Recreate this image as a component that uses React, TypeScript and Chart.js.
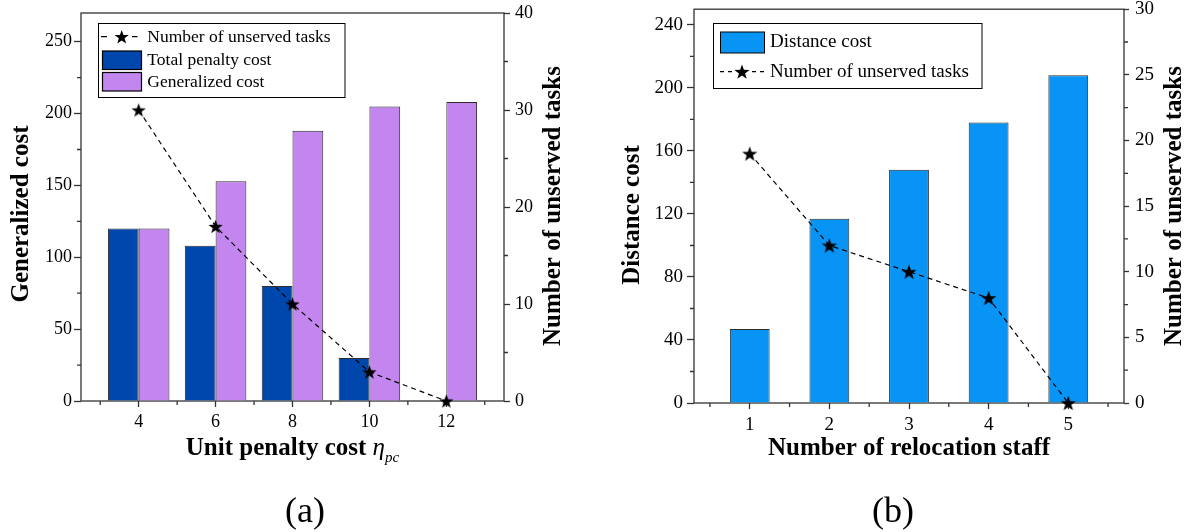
import React, { useEffect, useRef } from 'react';
import { Chart, registerables } from 'chart.js';

Chart.register(...registerables);

const FONT = "'Liberation Serif', 'Times New Roman', Times, serif";
const AXIS = '#333333';

// ---------- Chart (a) data ----------
const unitPenaltyCost = [4, 6, 8, 10, 12];
const totalPenaltyCost = [120, 108, 80, 30, 0];
const generalizedCost = [120, 153, 188, 205, 208];
const unservedTasksA = [30, 18, 10, 3, 0];
const aXTicks = [4, 6, 8, 10, 12];
const aXMinor = [3, 5, 7, 9, 11, 13];
const aYTicks = [0, 50, 100, 150, 200, 250];
const aYMinor = [25, 75, 125, 175, 225];
const aY1Ticks = [0, 10, 20, 30, 40];
const aY1Minor = [5, 15, 25, 35];

// ---------- Chart (b) data ----------
const relocationStaff = [1, 2, 3, 4, 5];
const distanceCost = [47, 117, 148, 178, 208];
const unservedTasksB = [19, 12, 10, 8, 0];
const bXTicks = [1, 2, 3, 4, 5];
const bXMinor = [0.5, 1.5, 2.5, 3.5, 4.5, 5.5];
const bYTicks = [0, 40, 80, 120, 160, 200, 240];
const bYMinor = [20, 60, 100, 140, 180, 220];
const bY1Ticks = [0, 5, 10, 15, 20, 25, 30];
const bY1Minor = [2.5, 7.5, 12.5, 17.5, 22.5, 27.5];

const TITLE_A_X = 'Unit penalty cost ';
const TITLE_B_X = 'Number of relocation staff';

function starPath(ctx: CanvasRenderingContext2D, cx: number, cy: number, R: number, r: number) {
  ctx.beginPath();
  for (let i = 0; i < 10; i++) {
    const rad = i % 2 === 0 ? R : r;
    const ang = -Math.PI / 2 + (i * Math.PI) / 5;
    const x = cx + rad * Math.cos(ang);
    const y = cy + rad * Math.sin(ang);
    if (i === 0) ctx.moveTo(x, y);
    else ctx.lineTo(x, y);
  }
  ctx.closePath();
}

function makeStar(R: number): HTMLCanvasElement {
  const c = document.createElement('canvas');
  const s = Math.ceil(R * 2 + 2);
  c.width = s;
  c.height = s;
  const ctx = c.getContext('2d')!;
  ctx.fillStyle = '#000';
  starPath(ctx, s / 2, s / 2 + R * 0.1, R, R * 0.4);
  ctx.fill();
  return c;
}

function fixTicks(values: number[]) {
  return (scale: any) => {
    scale.ticks = values.map((v) => ({ value: v }));
  };
}

function fitW(w: number) {
  return (scale: any) => {
    scale.width = w;
    scale.paddingTop = 0;
    scale.paddingBottom = 0;
    scale.paddingLeft = 0;
    scale.paddingRight = 0;
  };
}
function fitH(h: number) {
  return (scale: any) => {
    scale.height = h;
    scale.paddingTop = 0;
    scale.paddingBottom = 0;
    scale.paddingLeft = 0;
    scale.paddingRight = 0;
  };
}

function drawMinor(chart: any, xMinor: number[], yMinor: number[], y1Minor: number[]) {
  const ctx = chart.ctx as CanvasRenderingContext2D;
  const { left, right, bottom } = chart.chartArea;
  ctx.save();
  ctx.strokeStyle = AXIS;
  ctx.lineWidth = 1.3;
  ctx.beginPath();
  xMinor.forEach((v) => {
    const p = chart.scales.x.getPixelForValue(v);
    ctx.moveTo(p, bottom);
    ctx.lineTo(p, bottom + 4);
  });
  yMinor.forEach((v) => {
    const p = chart.scales.y.getPixelForValue(v);
    ctx.moveTo(left, p);
    ctx.lineTo(left - 4, p);
  });
  y1Minor.forEach((v) => {
    const p = chart.scales.y1.getPixelForValue(v);
    ctx.moveTo(right, p);
    ctx.lineTo(right + 4, p);
  });
  ctx.stroke();
  ctx.restore();
}

function drawBox(chart: any) {
  const ctx = chart.ctx as CanvasRenderingContext2D;
  const { left, right, top, bottom } = chart.chartArea;
  ctx.save();
  ctx.strokeStyle = AXIS;
  ctx.lineWidth = 1.3;
  ctx.strokeRect(left, top, right - left, bottom - top);
  ctx.restore();
}

function drawRotated(ctx: CanvasRenderingContext2D, text: string, x: number, y: number, font: string) {
  ctx.save();
  ctx.translate(x, y);
  ctx.rotate(-Math.PI / 2);
  ctx.font = font;
  ctx.fillStyle = '#000';
  ctx.textAlign = 'center';
  ctx.textBaseline = 'middle';
  ctx.fillText(text, 0, 0);
  ctx.restore();
}

function drawCaption(ctx: CanvasRenderingContext2D, text: string, x: number, y: number) {
  ctx.save();
  ctx.font = `36px ${FONT}`;
  ctx.fillStyle = '#000';
  ctx.textAlign = 'center';
  ctx.textBaseline = 'alphabetic';
  ctx.fillText(text, x, y);
  ctx.restore();
}

const decorA = {
  id: 'decorA',
  beforeDatasetsDraw(chart: any) {
    drawBox(chart);
    drawMinor(chart, aXMinor, aYMinor, aY1Minor);
  },
  afterDraw(chart: any) {
    const ctx = chart.ctx as CanvasRenderingContext2D;
    const ds = chart.data.datasets;
    // legend
    ctx.save();
    ctx.fillStyle = '#fff';
    ctx.fillRect(98.5, 23.5, 246.5, 74);
    ctx.strokeStyle = '#000';
    ctx.lineWidth = 1;
    ctx.strokeRect(98.5, 23.5, 246.5, 74);
    // row 1: line + star
    ctx.lineWidth = 1.2;
    ctx.beginPath();
    ctx.moveTo(101, 36.7);
    ctx.lineTo(107, 36.7);
    ctx.moveTo(132, 36.7);
    ctx.lineTo(137.5, 36.7);
    ctx.stroke();
    ctx.fillStyle = '#000';
    starPath(ctx, 121.7, 37.4, 7.5, 3);
    ctx.fill();
    // rows 2, 3: boxes
    ctx.fillStyle = ds[0].backgroundColor;
    ctx.fillRect(102.5, 51, 39, 18.5);
    ctx.strokeRect(102.5, 51, 39, 18.5);
    ctx.fillStyle = ds[1].backgroundColor;
    ctx.fillRect(102.5, 72.5, 39, 18.5);
    ctx.strokeRect(102.5, 72.5, 39, 18.5);
    ctx.fillStyle = '#000';
    ctx.font = `17.5px ${FONT}`;
    ctx.textAlign = 'left';
    ctx.textBaseline = 'middle';
    ctx.fillText(ds[2].label, 147.3, 37);
    ctx.fillText(ds[0].label, 147.3, 60.5);
    ctx.fillText(ds[1].label, 147.3, 82);
    ctx.restore();

    // axis titles
    drawRotated(ctx, 'Generalized cost', 22, 214, `bold 25px ${FONT}`);
    drawRotated(ctx, 'Number of unserved tasks', 554, 206, `bold 25px ${FONT}`);

    // x title with subscript
    ctx.save();
    ctx.fillStyle = '#000';
    ctx.textBaseline = 'alphabetic';
    ctx.textAlign = 'left';
    const f1 = `bold 25px ${FONT}`;
    const f2 = `italic 25px ${FONT}`;
    const f3 = `italic 15px ${FONT}`;
    ctx.font = f1;
    const w1 = ctx.measureText(TITLE_A_X).width;
    ctx.font = f2;
    const w2 = ctx.measureText('η').width;
    ctx.font = f3;
    const w3 = ctx.measureText('pc').width;
    const cx = (chart.chartArea.left + chart.chartArea.right) / 2;
    let x = cx - (w1 + w2 + w3) / 2;
    ctx.font = f1;
    ctx.fillText(TITLE_A_X, x, 455);
    x += w1;
    ctx.font = f2;
    ctx.fillText('η', x, 455);
    x += w2;
    ctx.font = f3;
    ctx.fillText('pc', x, 462);
    ctx.restore();

    drawCaption(ctx, '(a)', 305, 522);
  },
};

const OFF_B = 596;
const decorB = {
  id: 'decorB',
  beforeDatasetsDraw(chart: any) {
    drawBox(chart);
    drawMinor(chart, bXMinor, bYMinor, bY1Minor);
  },
  afterDraw(chart: any) {
    const ctx = chart.ctx as CanvasRenderingContext2D;
    const ds = chart.data.datasets;
    const o = OFF_B;
    ctx.save();
    ctx.fillStyle = '#fff';
    ctx.fillRect(713.5 - o, 23.5, 268.5, 65);
    ctx.strokeStyle = '#000';
    ctx.lineWidth = 1;
    ctx.strokeRect(713.5 - o, 23.5, 268.5, 65);
    ctx.fillStyle = ds[0].backgroundColor;
    ctx.fillRect(720.5 - o, 32, 44, 21);
    ctx.strokeRect(720.5 - o, 32, 44, 21);
    // row 2: dashed line with star
    ctx.lineWidth = 1.2;
    ctx.beginPath();
    ctx.moveTo(720 - o, 71.7);
    ctx.lineTo(724 - o, 71.7);
    ctx.moveTo(728 - o, 71.7);
    ctx.lineTo(732 - o, 71.7);
    ctx.moveTo(752 - o, 71.7);
    ctx.lineTo(756 - o, 71.7);
    ctx.moveTo(760 - o, 71.7);
    ctx.lineTo(764 - o, 71.7);
    ctx.stroke();
    ctx.fillStyle = '#000';
    starPath(ctx, 742 - o, 72.4, 8, 3.2);
    ctx.fill();
    ctx.font = `19px ${FONT}`;
    ctx.textAlign = 'left';
    ctx.textBaseline = 'middle';
    ctx.fillText(ds[0].label, 770 - o, 42.5);
    ctx.fillText(ds[1].label, 770 - o, 72);
    ctx.restore();

    drawRotated(ctx, 'Distance cost', 633 - o, 215, `bold 25px ${FONT}`);
    drawRotated(ctx, 'Number of unserved tasks', 1175 - o, 206, `bold 25px ${FONT}`);

    ctx.save();
    ctx.fillStyle = '#000';
    ctx.font = `bold 25px ${FONT}`;
    ctx.textAlign = 'center';
    ctx.textBaseline = 'alphabetic';
    ctx.fillText(TITLE_B_X, (chart.chartArea.left + chart.chartArea.right) / 2, 455);
    ctx.restore();

    drawCaption(ctx, '(b)', 893 - o, 522);
  },
};

function tickGrid(len: number) {
  return {
    display: true,
    drawOnChartArea: false,
    drawTicks: true,
    tickLength: len,
    tickColor: AXIS,
    tickWidth: 1.3,
    offset: false,
  };
}

function buildA(canvas: HTMLCanvasElement) {
  const star = makeStar(7.5);
  return new Chart(canvas, {
    type: 'bar',
    data: {
      datasets: [
        {
          label: 'Total penalty cost',
          data: unitPenaltyCost.map((x, i) => ({ x, y: totalPenaltyCost[i] })),
          backgroundColor: '#0047AD',
          borderColor: '#2b2b2b',
          borderWidth: 1,
          yAxisID: 'y',
          order: 2,
        },
        {
          label: 'Generalized cost',
          data: unitPenaltyCost.map((x, i) => ({ x, y: generalizedCost[i] })),
          backgroundColor: '#C386EF',
          borderColor: '#2b2b2b',
          borderWidth: 1,
          yAxisID: 'y',
          order: 2,
        },
        {
          type: 'line',
          label: 'Number of unserved tasks',
          data: unitPenaltyCost.map((x, i) => ({ x, y: unservedTasksA[i] })),
          borderColor: '#000',
          borderWidth: 1.2,
          borderDash: [5, 4],
          pointStyle: star,
          pointRadius: 7,
          tension: 0,
          yAxisID: 'y1',
          clip: false,
          order: 1,
        } as any,
      ],
    },
    options: {
      responsive: false,
      animation: false,
      devicePixelRatio: 1,
      events: [],
      layout: { padding: { top: 13, left: 0, right: 0, bottom: 0 } },
      datasets: { bar: { categoryPercentage: 0.8, barPercentage: 1 } } as any,
      plugins: { legend: { display: false }, tooltip: { enabled: false }, title: { display: false } },
      scales: {
        x: {
          type: 'linear',
          min: 2.5,
          max: 13.5,
          offset: false,
          grid: tickGrid(6) as any,
          border: { display: false },
          afterBuildTicks: fixTicks(aXTicks),
          afterFit: fitH(131),
          ticks: { color: '#000', font: { family: FONT, size: 18 }, padding: 4, maxRotation: 0, autoSkip: false },
        },
        y: {
          type: 'linear',
          position: 'left',
          min: 0,
          max: 270,
          grid: tickGrid(7) as any,
          border: { display: false },
          afterBuildTicks: fixTicks(aYTicks),
          afterFit: fitW(81),
          ticks: { color: '#000', font: { family: FONT, size: 18 }, padding: 2 },
        },
        y1: {
          type: 'linear',
          position: 'right',
          min: 0,
          max: 40,
          grid: tickGrid(6) as any,
          border: { display: false },
          afterBuildTicks: fixTicks(aY1Ticks),
          afterFit: fitW(92),
          ticks: { color: '#000', font: { family: FONT, size: 18 }, padding: 5 },
        },
      },
    } as any,
    plugins: [decorA],
  });
}

function buildB(canvas: HTMLCanvasElement) {
  const star = makeStar(8);
  return new Chart(canvas, {
    type: 'bar',
    data: {
      datasets: [
        {
          label: 'Distance cost',
          data: relocationStaff.map((x, i) => ({ x, y: distanceCost[i] })),
          backgroundColor: '#0894F5',
          borderColor: '#2b2b2b',
          borderWidth: 1,
          yAxisID: 'y',
          order: 2,
        },
        {
          type: 'line',
          label: 'Number of unserved tasks',
          data: relocationStaff.map((x, i) => ({ x, y: unservedTasksB[i] })),
          borderColor: '#000',
          borderWidth: 1.2,
          borderDash: [5, 4],
          pointStyle: star,
          pointRadius: 8,
          tension: 0,
          yAxisID: 'y1',
          clip: false,
          order: 1,
        } as any,
      ],
    },
    options: {
      responsive: false,
      animation: false,
      devicePixelRatio: 1,
      events: [],
      layout: { padding: { top: 9, left: 0, right: 0, bottom: 0 } },
      datasets: { bar: { categoryPercentage: 0.5, barPercentage: 1 } } as any,
      plugins: { legend: { display: false }, tooltip: { enabled: false }, title: { display: false } },
      scales: {
        x: {
          type: 'linear',
          min: 0.3,
          max: 5.7,
          offset: false,
          grid: tickGrid(6) as any,
          border: { display: false },
          afterBuildTicks: fixTicks(bXTicks),
          afterFit: fitH(129),
          ticks: { color: '#000', font: { family: FONT, size: 19 }, padding: 5, maxRotation: 0, autoSkip: false },
        },
        y: {
          type: 'linear',
          position: 'left',
          min: 0,
          max: 250,
          grid: tickGrid(7) as any,
          border: { display: false },
          afterBuildTicks: fixTicks(bYTicks),
          afterFit: fitW(98),
          ticks: { color: '#000', font: { family: FONT, size: 19 }, padding: 4 },
        },
        y1: {
          type: 'linear',
          position: 'right',
          min: 0,
          max: 30,
          grid: tickGrid(5) as any,
          border: { display: false },
          afterBuildTicks: fixTicks(bY1Ticks),
          afterFit: fitW(68),
          ticks: { color: '#000', font: { family: FONT, size: 19 }, padding: 6 },
        },
      },
    } as any,
    plugins: [decorB],
  });
}

export default function App() {
  const refA = useRef<HTMLCanvasElement>(null);
  const refB = useRef<HTMLCanvasElement>(null);

  useEffect(() => {
    const a = buildA(refA.current!);
    const b = buildB(refB.current!);
    return () => {
      a.destroy();
      b.destroy();
    };
  }, []);

  return (
    <div
      style={{
        position: 'fixed',
        left: 0,
        top: 0,
        width: 1192,
        height: 532,
        background: '#fff',
        overflow: 'hidden',
      }}
    >
      <canvas
        ref={refA}
        width={596}
        height={532}
        style={{ position: 'absolute', left: 0, top: 0, width: 596, height: 532 }}
      />
      <canvas
        ref={refB}
        width={596}
        height={532}
        style={{ position: 'absolute', left: 596, top: 0, width: 596, height: 532 }}
      />
    </div>
  );
}
